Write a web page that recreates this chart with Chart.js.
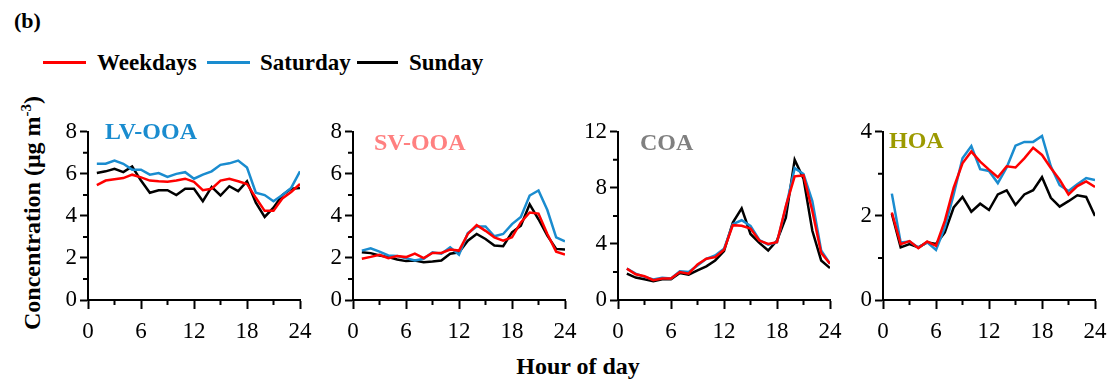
<!DOCTYPE html>
<html>
<head>
<meta charset="utf-8">
<script src="https://cdn.jsdelivr.net/npm/chart.js@4"></script>
<style>
  body { margin: 0; background: #fff; width: 1112px; height: 379px; position: relative; overflow: hidden;
         font-family: 'Liberation Serif', 'Times New Roman', serif; }
  canvas { position: absolute; }
  .txt { position: absolute; font-weight: bold; white-space: nowrap; line-height: 1; }
  .leg { position: absolute; height: 0; border-top: 3px solid; }
</style>
</head>
<body>
<div class="txt" style="left:14px;top:10px;font-size:22px;">(b)</div>

<div class="leg" style="left:43px;top:61px;width:43px;border-color:#ff0000;"></div>
<div class="txt" style="left:97px;top:51px;font-size:23px;">Weekdays</div>
<div class="leg" style="left:207px;top:61px;width:43px;border-color:#1a8ccf;"></div>
<div class="txt" style="left:260px;top:51px;font-size:23px;">Saturday</div>
<div class="leg" style="left:357px;top:61px;width:41px;border-color:#000;"></div>
<div class="txt" style="left:409px;top:51px;font-size:23px;">Sunday</div>

<div class="txt" style="left:31px;top:213px;font-size:24px;transform:translate(-50%,-50%) rotate(-90deg);">Concentration (μg m<sup style="font-size:15px;">-3</sup>)</div>
<div class="txt" style="left:578px;top:366px;font-size:24px;transform:translate(-50%,-50%);">Hour of day</div>

<script>
// hour of day (x values)
var hours = [1,2,3,4,5,6,7,8,9,10,11,12,13,14,15,16,17,18,19,20,21,22,23,24];
var seriesNames = ['Weekdays', 'Saturday', 'Sunday'];
var seriesColors = ['#ff0000', '#1a8ccf', '#000000'];

var lvWeekdays = [5.46,5.68,5.74,5.80,5.96,5.83,5.68,5.65,5.63,5.68,5.77,5.62,5.22,5.29,5.68,5.77,5.65,5.52,4.86,4.24,4.24,4.83,5.14,5.52];
var lvSaturday = [6.48,6.48,6.63,6.48,6.20,6.20,5.96,6.04,5.85,6.00,6.08,5.77,5.96,6.12,6.43,6.50,6.63,6.30,5.10,4.99,4.70,4.99,5.33,6.12];
var lvSunday   = [6.04,6.12,6.24,6.08,6.35,5.68,5.10,5.22,5.22,4.99,5.29,5.29,4.70,5.38,4.97,5.41,5.18,5.65,4.63,3.95,4.39,4.99,5.29,5.33];

var svWeekdays = [1.96,2.05,2.15,1.99,2.09,2.04,2.21,1.99,2.24,2.24,2.40,2.35,3.14,3.56,3.29,2.98,2.82,2.98,3.69,4.16,4.11,3.14,2.30,2.16];
var svSaturday = [2.35,2.46,2.30,2.12,2.09,1.99,1.88,1.96,2.27,2.20,2.51,2.16,3.18,3.50,3.50,3.03,3.14,3.61,3.95,4.97,5.21,4.28,2.98,2.79];
var svSunday   = [2.27,2.23,2.12,2.04,1.93,1.85,1.88,1.80,1.83,1.88,2.20,2.27,2.82,3.14,2.90,2.59,2.56,3.22,3.53,4.55,3.84,3.06,2.43,2.40];

var coaWeekdays = [2.24,1.84,1.69,1.41,1.53,1.53,2.00,1.88,2.54,2.94,3.06,3.58,5.34,5.29,5.10,4.24,4.00,4.12,6.70,8.82,8.89,6.35,3.36,2.59];
var coaSaturday = [2.24,1.88,1.65,1.46,1.58,1.53,2.05,2.00,2.47,2.94,3.18,3.65,5.41,5.69,5.29,4.28,3.95,4.12,6.59,9.41,8.99,7.06,3.53,2.59];
var coaSunday   = [1.88,1.60,1.48,1.34,1.48,1.48,1.93,1.81,2.12,2.40,2.82,3.48,5.53,6.54,4.71,4.07,3.53,4.24,5.88,10.0,8.66,4.94,2.82,2.28];

var hoaWeekdays = [2.08,1.33,1.40,1.23,1.39,1.29,1.88,2.67,3.25,3.53,3.29,3.10,2.92,3.18,3.15,3.37,3.62,3.45,3.14,2.86,2.51,2.71,2.82,2.69];
var hoaSaturday = [2.53,1.37,1.39,1.25,1.37,1.19,1.73,2.51,3.37,3.66,3.11,3.07,2.78,3.15,3.67,3.76,3.76,3.90,3.18,2.73,2.59,2.75,2.90,2.85];
var hoaSunday   = [2.05,1.25,1.33,1.25,1.37,1.33,1.61,2.20,2.45,2.10,2.29,2.14,2.51,2.61,2.26,2.51,2.61,2.92,2.43,2.22,2.35,2.49,2.45,2.00];

var xTicks = [0, 6, 12, 18, 24];

var panels = [
  { name: 'LV-OOA', color: '#1a8ccf', axisX: 88,  yMax: 8,  yStep: 2, yMinor: 1, data: [lvWeekdays, lvSaturday, lvSunday],    tx: 17, ty: 131 },
  { name: 'SV-OOA', color: '#ff8080', axisX: 353, yMax: 8,  yStep: 2, yMinor: 1, data: [svWeekdays, svSaturday, svSunday],    tx: 21, ty: 142 },
  { name: 'COA',    color: '#808080', axisX: 618, yMax: 12, yStep: 4, yMinor: 2, data: [coaWeekdays, coaSaturday, coaSunday], tx: 22, ty: 142 },
  { name: 'HOA',    color: '#9c9a00', axisX: 883, yMax: 4,  yStep: 2, yMinor: 1, data: [hoaWeekdays, hoaSaturday, hoaSunday], tx: 6,  ty: 140 }
];

var serif = "'Liberation Serif', 'Times New Roman', serif";
Chart.defaults.font.family = serif;
Chart.defaults.color = '#000';

// short minor tick marks between the labelled ones
var minorTicks = {
  id: 'minorTicks',
  afterDraw: function(chart, args, opts) {
    var ctx = chart.ctx, xs = chart.scales.x, ys = chart.scales.y, a = chart.chartArea;
    ctx.save();
    ctx.strokeStyle = '#000';
    ctx.lineWidth = 2;
    ctx.beginPath();
    for (var v = opts.x; v < xs.max; v += opts.x * 2) {
      var px = xs.getPixelForValue(v);
      ctx.moveTo(px, a.bottom); ctx.lineTo(px, a.bottom + 5);
    }
    for (var w = opts.y; w < ys.max; w += opts.y * 2) {
      var py = ys.getPixelForValue(w);
      ctx.moveTo(a.left, py); ctx.lineTo(a.left - 5, py);
    }
    ctx.stroke();
    ctx.restore();
  }
};

var yAxisW = 60, padTop = 15, padRight = 24, xAxisH = 45;
var plotW = 212, plotH = 170;

panels.forEach(function(p) {
  var cv = document.createElement('canvas');
  cv.width = yAxisW + plotW + padRight;
  cv.height = padTop + plotH + xAxisH;
  cv.style.left = (p.axisX - yAxisW) + 'px';
  cv.style.top = (130 - padTop) + 'px';
  document.body.appendChild(cv);

  var title = document.createElement('div');
  title.className = 'txt';
  title.textContent = p.name;
  title.style.color = p.color;
  title.style.fontSize = '24px';
  title.style.left = (p.axisX + p.tx) + 'px';
  title.style.top = (p.ty - 12) + 'px';
  document.body.appendChild(title);

  var ds = seriesNames.map(function(n, i) {
    return {
      label: n,
      data: hours.map(function(h, k) { return { x: h, y: p.data[i][k] }; }),
      borderColor: seriesColors[i],
      borderWidth: 2.5,
      pointRadius: 0,
      tension: 0,
      order: i
    };
  });

  new Chart(cv, {
    type: 'line',
    data: { datasets: ds },
    options: {
      responsive: false,
      animation: false,
      layout: { padding: { top: padTop, right: padRight, left: 0, bottom: 0 } },
      plugins: { legend: { display: false }, tooltip: { enabled: false }, minorTicks: { x: 3, y: p.yMinor } },
      scales: {
        x: {
          type: 'linear', min: 0, max: 24,
          afterBuildTicks: function(s) { s.ticks = xTicks.map(function(v) { return { value: v }; }); },
          ticks: { font: { family: serif, size: 23 }, color: '#000', padding: 9, maxRotation: 0 },
          grid: { drawOnChartArea: false, drawTicks: true, tickLength: 9, tickColor: '#000', tickWidth: 2 },
          border: { display: true, color: '#000', width: 2 },
          afterFit: function(s) { s.height = xAxisH; }
        },
        y: {
          min: 0, max: p.yMax,
          ticks: { stepSize: p.yStep, font: { family: serif, size: 23 }, color: '#000', padding: 3 },
          grid: { drawOnChartArea: false, drawTicks: true, tickLength: 8, tickColor: '#000', tickWidth: 2 },
          border: { display: true, color: '#000', width: 2 },
          afterFit: function(s) { s.width = yAxisW; }
        }
      }
    },
    plugins: [minorTicks]
  });
});
</script>
</body>
</html>
